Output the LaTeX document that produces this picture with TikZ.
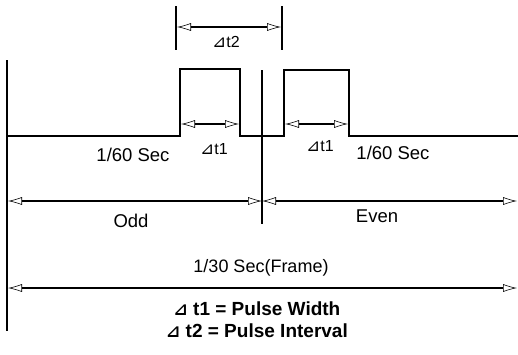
\documentclass[tikz,border=0pt]{standalone}
\usepackage{fontspec}
\setmainfont{Liberation Sans}
\newfontfamily\symfont{DejaVu Sans}
\usetikzlibrary{arrows.meta}
\newcommand{\tri}{{\symfont\fontsize{17}{17}\selectfont ⊿}}
\begin{document}
\begin{tikzpicture}[x=1pt,y=-1pt,
  wire/.style={line width=2pt},
  dim/.style={line width=1.8pt,{Latex[open,length=7pt,width=4pt,scale=2,line width=0.6pt,fill=white]}-{Latex[open,length=7pt,width=4pt,scale=2,line width=0.6pt,fill=white]}},
  lbl/.style={inner sep=0pt,font=\fontsize{18.5}{20}\selectfont},
  small/.style={inner sep=0pt,font=\fontsize{16}{17}\selectfont},
  note/.style={inner sep=0pt,font=\bfseries\fontsize{19}{21}\selectfont}]
\useasboundingbox (0,0) rectangle (518,354);
% axes
\coordinate (L1) at (7,60);
\coordinate (L2) at (7,331);
\coordinate (C1) at (262,70);
\coordinate (C2) at (262,224);
\draw[wire] (L1) -- (L2);
\draw[wire] (C1) -- (C2);
% waveform
\coordinate (w0) at (7,136);
\coordinate (a1) at (180,136);
\coordinate (a2) at (180,69);
\coordinate (a3) at (240,69);
\coordinate (a4) at (240,136);
\coordinate (b1) at (284,136);
\coordinate (b2) at (284,70);
\coordinate (b3) at (349,70);
\coordinate (b4) at (349,136);
\coordinate (w1) at (518,136);
\draw[wire] (w0) -- (a1) -- (a2) -- (a3) -- (a4) -- (b1) -- (b2) -- (b3) -- (b4) -- (w1);
% delta t2
\coordinate (t2a) at (176,6);
\coordinate (t2b) at (176,50);
\coordinate (t2c) at (282,6);
\coordinate (t2d) at (282,50);
\draw[wire] (t2a) -- (t2b);
\draw[wire] (t2c) -- (t2d);
\coordinate (d2l) at (177,27);
\coordinate (d2r) at (281,27);
\draw[dim] (d2l) -- (d2r);
\node[small] (lt2) at (226,42) {\tri t2};
% delta t1
\coordinate (d1l) at (181,124);
\coordinate (d1r) at (239,124);
\draw[dim] (d1l) -- (d1r);
\coordinate (e1l) at (285,124);
\coordinate (e1r) at (348,124);
\draw[dim] (e1l) -- (e1r);
\node[small] (lt1a) at (214,149) {\tri t1};
\node[small] (lt1b) at (320,146) {\tri t1};
\node[lbl] (s60a) at (133,155) {1/60 Sec};
\node[lbl] (s60b) at (393,153) {1/60 Sec};
% odd / even
\coordinate (oL) at (8,201);
\coordinate (oM) at (262,201);
\coordinate (oR) at (517,201);
\draw[dim] (oL) -- (oM);
\draw[dim] (oM) -- (oR);
\node[lbl] (odd) at (131,221) {Odd};
\node[lbl] (even) at (377,216) {Even};
% frame
\coordinate (fL) at (8,288);
\coordinate (fR) at (517,288);
\draw[dim] (fL) -- (fR);
\node[lbl,font=\fontsize{18}{20}\selectfont] (frame) at (261,268) {1/30 Sec(Frame)};
\node[note] (n1) at (257,309) {\tri\ t1 = Pulse Width};
\node[note] (n2) at (257,331) {\tri\ t2 = Pulse Interval};
\end{tikzpicture}
\end{document}
